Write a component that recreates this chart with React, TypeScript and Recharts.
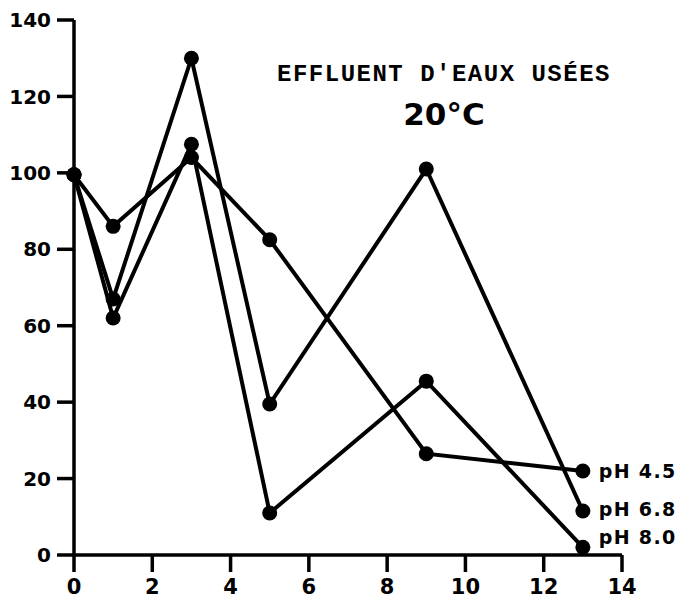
import React from "react";
import { LineChart, Line, XAxis, YAxis } from "recharts";

const days = [0, 1, 3, 5, 9, 13];
const ph45 = [99.5, 86, 104, 82.5, 26.5, 22];
const ph68 = [99.5, 67, 130, 39.5, 101, 11.5];
const ph80 = [99.5, 62, 107.5, 11, 45.5, 2];
const seriesNames = ["pH 4.5", "pH 6.8", "pH 8.0"];
const xTicks = [0, 2, 4, 6, 8, 10, 12, 14];
const yTicks = [0, 20, 40, 60, 80, 100, 120, 140];
const title = "EFFLUENT D'EAUX USÉES";
const subtitle = "20°C";

const data = days.map((d, i) => ({ day: d, a: ph45[i], b: ph68[i], c: ph80[i] }));

const xTickFont = { fontFamily: "DejaVu Sans", fontWeight: 700, fontSize: 21, fill: "#000" };
const yTickFont = { fontFamily: "DejaVu Sans", fontWeight: 700, fontSize: 20, fill: "#000" };
const labelDy = [0, -2, -10];

const makeLabel = (name: string, dy: number) => (props: any) => {
  const { x, y, index } = props;
  if (index !== days.length - 1) return null;
  return (
    <text
      x={x + 16}
      y={y + 7 + dy}
      fontFamily="DejaVu Sans"
      fontWeight={700}
      fontSize={19}
      letterSpacing={1.3}
      fill="#000"
    >
      {name}
    </text>
  );
};

const Dot = (props: any) => {
  const { cx, cy } = props;
  return <circle cx={cx} cy={cy} r={7.5} fill="#000" />;
};

export default function App() {
  const keys = ["a", "b", "c"];
  return (
    <div style={{ position: "relative", width: 679, height: 605, background: "#fff" }}>
      <LineChart width={679} height={605} data={data} margin={{ top: 12, right: 65, bottom: 20, left: 0 }}>
        <XAxis
          dataKey="day"
          type="number"
          domain={[0, 14]}
          ticks={xTicks}
          height={38}
          tickSize={17}
          tickMargin={7}
          tick={xTickFont}
          stroke="#000"
          strokeWidth={3.5}
          tickLine={{ stroke: "#000", strokeWidth: 3.5 }}
        />
        <YAxis
          type="number"
          domain={[0, 140]}
          ticks={yTicks}
          width={66}
          tickSize={17}
          tickMargin={6}
          tick={yTickFont}
          stroke="#000"
          strokeWidth={3.5}
          tickLine={{ stroke: "#000", strokeWidth: 3.5 }}
        />
        {keys.map((k, i) => (
          <Line
            key={k}
            dataKey={k}
            stroke="#000"
            strokeWidth={4}
            dot={<Dot />}
            activeDot={false}
            isAnimationActive={false}
            label={makeLabel(seriesNames[i], labelDy[i])}
          />
        ))}
      </LineChart>
      <div
        style={{
          position: "absolute",
          left: 236,
          top: 52,
          width: 400,
          textAlign: "center",
          fontFamily: "Liberation Mono",
          fontWeight: 700,
          fontSize: 24,
          letterSpacing: 1.5,
          color: "#000",
          lineHeight: "30px",
        }}
      >
        {title}
      </div>
      <div
        style={{
          position: "absolute",
          left: 236,
          top: 88,
          width: 400,
          textAlign: "center",
          fontFamily: "DejaVu Sans",
          fontWeight: 700,
          fontSize: 31,
          color: "#000",
          lineHeight: "36px",
        }}
      >
        {subtitle}
      </div>
    </div>
  );
}
